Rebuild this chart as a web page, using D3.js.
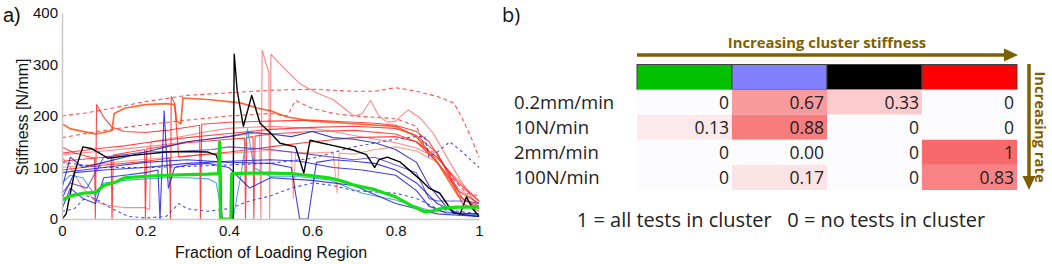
<!DOCTYPE html>
<html>
<head>
<meta charset="utf-8">
<script src="https://cdn.jsdelivr.net/npm/d3@7"></script>
<style>
  html, body { margin: 0; padding: 0; background: #fff; }
  svg { display: block; }
</style>
</head>
<body>
<svg id="chart" width="1052" height="264"></svg>
<script>
// ---- panel a) stiffness traces, [fraction, N/mm] ----
const greenTrace = [[0,37],[0.02,45],[0.05,50],[0.08,52],[0.085,55],[0.1,65],[0.13,72],[0.15,80],[0.2,83],[0.25,85],[0.3,86],[0.35,87],[0.375,88],[0.378,150],[0.38,0],[0.405,0],[0.407,88],[0.45,89],[0.5,89],[0.55,88],[0.6,84],[0.64,80],[0.67,74],[0.7,66],[0.75,57],[0.8,43],[0.84,25],[0.87,14],[0.89,16],[0.91,21],[0.95,23],[1,23]];
const blackTrace = [[0,0],[0.01,10],[0.03,90],[0.05,140],[0.07,137],[0.09,128],[0.11,118],[0.15,122],[0.2,126],[0.25,130],[0.3,131],[0.35,130],[0.37,124],[0.38,100],[0.383,0],[0.41,0],[0.413,320],[0.42,250],[0.435,180],[0.455,240],[0.475,186],[0.5,167],[0.523,147],[0.56,140],[0.58,89],[0.595,153],[0.62,148],[0.643,144],[0.698,134],[0.73,125],[0.75,100],[0.76,115],[0.78,120],[0.81,111],[0.84,90],[0.86,76],[0.88,60],[0.906,50],[0.938,12],[0.955,10],[0.97,43],[0.985,20],[1,5]];

const redDashTop = [[0,200],[0.05,205],[0.1,212],[0.2,228],[0.3,240],[0.4,245],[0.5,250],[0.6,252],[0.7,248],[0.75,248],[0.8,255],[0.85,248],[0.9,238],[0.94,225],[0.96,195],[0.98,160],[1,120]];
const redDashMid = [[0,158],[0.05,165],[0.1,172],[0.2,183],[0.3,192],[0.4,200],[0.5,205],[0.54,200],[0.56,230],[0.6,215],[0.65,205],[0.7,200],[0.8,195],[0.85,180],[0.87,140],[0.9,125],[0.94,76],[0.97,50],[1,45]];
const orangeTrace = [[0,185],[0.02,175],[0.05,170],[0.08,165],[0.1,168],[0.12,172],[0.125,205],[0.15,215],[0.2,222],[0.25,224],[0.27,222],[0.275,190],[0.285,185],[0.29,235],[0.35,232],[0.4,228],[0.43,225],[0.47,215],[0.5,210],[0.54,198],[0.6,190],[0.7,185],[0.8,180],[0.85,160],[0.9,110],[0.95,45],[1,20]];
const redSpikeA = [[0,140],[0.03,128],[0.06,122],[0.078,118],[0.08,0],[0.083,222],[0.1,198],[0.12,178],[0.15,170],[0.2,168],[0.25,172],[0.3,178],[0.33,182],[0.332,0],[0.335,184],[0.4,188],[0.5,190],[0.6,192],[0.7,188],[0.75,186],[0.8,182],[0.85,170],[0.88,150],[0.92,100],[0.96,40],[1,25]];
const redSolidA = [[0,128],[0.05,133],[0.1,138],[0.15,142],[0.2,148],[0.3,158],[0.4,166],[0.5,174],[0.6,178],[0.7,180],[0.8,176],[0.85,162],[0.9,128],[0.93,80],[0.96,30],[1,15]];
const redSolidB = [[0,112],[0.05,116],[0.1,120],[0.118,122],[0.12,0],[0.123,124],[0.15,128],[0.198,135],[0.2,0],[0.203,136],[0.25,142],[0.3,148],[0.4,155],[0.438,157],[0.44,0],[0.443,158],[0.458,160],[0.46,0],[0.463,161],[0.5,165],[0.6,170],[0.7,172],[0.8,165],[0.85,150],[0.9,110],[0.95,55],[1,30]];
const redPeak = [[0,125],[0.1,132],[0.2,140],[0.3,150],[0.4,160],[0.474,168],[0.477,0],[0.48,328],[0.49,300],[0.496,285],[0.498,0],[0.501,320],[0.53,295],[0.57,263],[0.61,245],[0.65,232],[0.7,200],[0.72,205],[0.74,230],[0.76,200],[0.78,188],[0.8,190],[0.83,212],[0.86,195],[0.89,167],[0.93,110],[0.955,76],[1,20]];
const redLightLow = [[0,120],[0.02,100],[0.05,60],[0.08,35],[0.1,28],[0.15,22],[0.2,22],[0.21,18],[0.213,150],[0.25,155],[0.3,162],[0.35,170],[0.4,176],[0.5,180],[0.6,176],[0.65,170],[0.7,162],[0.8,148],[0.85,138],[0.9,118],[0.95,75],[1,35]];
const salmonTrace = [[0,100],[0.1,108],[0.2,116],[0.3,122],[0.4,128],[0.5,133],[0.55,130],[0.555,40],[0.56,130],[0.6,128],[0.65,130],[0.66,50],[0.665,128],[0.7,126],[0.75,135],[0.8,140],[0.85,132],[0.9,110],[0.95,60],[1,30]];
const redSpikeB = [[0,95],[0.05,100],[0.1,105],[0.15,108],[0.2,112],[0.258,118],[0.26,0],[0.262,238],[0.27,225],[0.28,120],[0.3,122],[0.4,130],[0.5,140],[0.6,150],[0.7,158],[0.8,160],[0.85,150],[0.9,120],[0.95,70],[1,35]];

const blueTop = [[0,60],[0.02,120],[0.05,100],[0.1,110],[0.15,120],[0.2,130],[0.25,140],[0.3,150],[0.35,155],[0.4,160],[0.45,168],[0.5,165],[0.55,160],[0.6,170],[0.65,158],[0.7,155],[0.75,148],[0.8,135],[0.85,110],[0.88,65],[0.92,25],[0.95,10],[1,5]];
const blueDip = [[0,90],[0.05,95],[0.1,100],[0.2,110],[0.3,115],[0.4,110],[0.5,108],[0.55,100],[0.57,0],[0.59,0],[0.61,110],[0.65,115],[0.7,112],[0.75,108],[0.8,95],[0.85,70],[0.9,30],[0.95,10],[1,5]];
const blueDashHigh = [[0,110],[0.1,100],[0.2,100],[0.3,102],[0.4,105],[0.5,108],[0.6,118],[0.7,140],[0.8,155],[0.85,160],[0.87,160],[0.88,120],[0.9,130],[0.93,150],[0.96,130],[1,100]];
const blueDashLow = [[0,15],[0.03,20],[0.06,45],[0.09,35],[0.12,20],[0.16,5],[0.2,2],[0.25,5],[0.28,30],[0.3,20],[0.35,15],[0.4,20],[0.45,35],[0.5,45],[0.55,60],[0.6,70],[0.65,65],[0.7,55],[0.8,50],[0.85,40],[0.9,20],[1,10]];
const lightBlue = [[0,70],[0.02,85],[0.05,80],[0.08,45],[0.1,70],[0.15,75],[0.2,78],[0.25,80],[0.3,80],[0.35,78],[0.37,70],[0.385,0],[0.41,0],[0.43,90],[0.445,175],[0.46,100],[0.5,82],[0.57,82],[0.64,76],[0.72,50],[0.8,37],[0.88,17],[1,8]];
const blueMid = [[0,40],[0.03,90],[0.1,95],[0.2,100],[0.3,108],[0.4,112],[0.5,115],[0.57,112],[0.65,100],[0.72,95],[0.8,85],[0.85,55],[0.88,25],[0.92,12],[1,10]];
const purpleTrace = [[0,50],[0.02,70],[0.06,60],[0.1,120],[0.15,125],[0.2,130],[0.3,132],[0.36,135],[0.4,140],[0.5,135],[0.6,125],[0.7,115],[0.75,120],[0.8,105],[0.85,90],[0.88,40],[0.9,35],[0.97,35],[1,30]];
const blueSpike = [[0,20],[0.02,60],[0.05,40],[0.08,30],[0.1,80],[0.15,85],[0.2,90],[0.23,95],[0.235,0],[0.245,210],[0.255,60],[0.27,100],[0.3,105],[0.35,108],[0.4,100],[0.45,60],[0.5,80],[0.6,75],[0.7,65],[0.8,30],[0.9,10],[1,5]];

const xTicks = [0, 0.2, 0.4, 0.6, 0.8, 1];
const yTicks = [0, 100, 200, 300, 400];

// ---- panel b) cluster membership table ----
const rates = ['0.2mm/min', '10N/min', '2mm/min', '100N/min'];
const clusterColors = ['#00c000', '#8080ff', '#000000', '#ff0000'];
const fractions = [
  [0, 0.67, 0.33, 0],
  [0.13, 0.88, 0, 0],
  [0, 0.00, 0, 1],
  [0, 0.17, 0, 0.83]
];
const fractionLabels = [
  ['0', '0.67', '0.33', '0'],
  ['0.13', '0.88', '0', '0'],
  ['0', '0.00', '0', '1'],
  ['0', '0.17', '0', '0.83']
];

// line styles (kept apart from the data)
const styles = {
  red:      { stroke: '#ff1a1a', w: 1.1, op: 0.8 },
  redDash:  { stroke: '#ff3333', w: 1.1, op: 0.85, dash: '4,3' },
  orange:   { stroke: '#ff4400', w: 1.7, op: 0.8 },
  redLight: { stroke: '#ff6a6a', w: 1.1, op: 0.8 },
  salmon:   { stroke: '#ff8f7a', w: 1.1, op: 0.85 },
  blue:     { stroke: '#1010e0', w: 1.1, op: 0.8 },
  blueDark: { stroke: '#2020b0', w: 1.1, op: 0.85 },
  blueDash: { stroke: '#3333cc', w: 1.1, op: 0.85, dash: '3,3' },
  ltBlue:   { stroke: '#3399dd', w: 1.1, op: 0.85 },
  purple:   { stroke: '#5533cc', w: 1.1, op: 0.8 },
  black:    { stroke: '#000000', w: 1.4, op: 1 },
  green:    { stroke: '#11e011', w: 3.2, op: 1 }
};

const traces = [
  [redDashTop, 'redDash'], [redDashMid, 'redDash'], [redPeak, 'redLight'],
  [redLightLow, 'redLight'], [salmonTrace, 'salmon'], [redSpikeB, 'red'],
  [redSolidA, 'red'], [redSolidB, 'red'], [redSpikeA, 'red'], [orangeTrace, 'orange'],
  [blueDashLow, 'blueDash'], [blueDashHigh, 'blueDash'], [lightBlue, 'ltBlue'],
  [blueMid, 'blue'], [purpleTrace, 'purple'], [blueSpike, 'blue'],
  [blueDip, 'blue'], [blueTop, 'blueDark'],
  [blackTrace, 'black'], [greenTrace, 'green']
];

const svg = d3.select('#chart');
svg.append('rect').attr('width', 1052).attr('height', 264).attr('fill', '#fff');

// ===== panel a =====
const x = d3.scaleLinear().domain([0, 1]).range([62, 479]);
const y = d3.scaleLinear().domain([0, 400]).range([219, 13]);
const AX_FONT = 'Liberation Sans, Arial, sans-serif';

const plot = svg.append('g');
plot.append('defs').append('clipPath').attr('id', 'clipA')
  .append('rect').attr('x', 62).attr('y', 5).attr('width', 418).attr('height', 215);

const line = d3.line().x(d => x(d[0])).y(d => y(d[1]));
const lines = plot.append('g').attr('clip-path', 'url(#clipA)');
traces.forEach(([data, key]) => {
  const s = styles[key];
  lines.append('path')
    .attr('d', line(data))
    .attr('fill', 'none')
    .attr('stroke', s.stroke)
    .attr('stroke-width', s.w)
    .attr('stroke-opacity', s.op)
    .attr('stroke-linejoin', 'round')
    .attr('stroke-dasharray', s.dash || null);
});

const xAxis = plot.append('g').attr('transform', 'translate(0,219)')
  .call(d3.axisBottom(x).tickValues(xTicks).tickFormat(d3.format('~g')).tickSize(0).tickPadding(6));
const yAxis = plot.append('g').attr('transform', 'translate(62,0)')
  .call(d3.axisLeft(y).tickValues(yTicks).tickSize(0).tickPadding(4));
[xAxis, yAxis].forEach(a => {
  a.select('.domain').attr('stroke', '#c8c8c8').attr('stroke-width', 1.5);
  a.selectAll('text').attr('font-family', AX_FONT).attr('font-size', 15).attr('fill', '#111');
});

plot.append('text')
  .attr('transform', 'translate(28,117) rotate(-90)')
  .attr('text-anchor', 'middle')
  .attr('font-family', AX_FONT).attr('font-size', 16).attr('fill', '#111')
  .text('Stiffness [N/mm]');
plot.append('text')
  .attr('x', 271).attr('y', 258)
  .attr('text-anchor', 'middle')
  .attr('font-family', AX_FONT).attr('font-size', 16).attr('fill', '#111')
  .text('Fraction of Loading Region');
plot.append('text')
  .attr('x', 3).attr('y', 22)
  .attr('font-family', AX_FONT).attr('font-size', 20).attr('fill', '#111')
  .text('a)');

// ===== panel b =====
const TB_FONT = 'Open Sans, Lato, sans-serif';
const BROWN = '#7f6000';
const col = d3.scaleBand().domain(d3.range(clusterColors.length)).range([637, 1017]);
const row = d3.scaleBand().domain(d3.range(rates.length)).range([89.5, 190]);
const heat = d3.scaleLinear().domain([0, 1]).range(['#fcfcff', '#f8696b']);

const tb = svg.append('g');
tb.append('text')
  .attr('x', 502).attr('y', 22)
  .attr('font-family', TB_FONT).attr('font-size', 20).attr('fill', '#111')
  .text('b)');

// horizontal arrow
tb.append('line')
  .attr('x1', 637).attr('x2', 1006).attr('y1', 55).attr('y2', 55)
  .attr('stroke', BROWN).attr('stroke-width', 3.5);
tb.append('path')
  .attr('d', 'M1004,48.5L1018,55L1004,61.5Z').attr('fill', BROWN);
tb.append('text')
  .attr('x', 827).attr('y', 48)
  .attr('text-anchor', 'middle')
  .attr('font-family', TB_FONT).attr('font-weight', 'bold').attr('font-size', 14.8)
  .attr('fill', BROWN)
  .text('Increasing cluster stiffness');

// vertical arrow
tb.append('line')
  .attr('x1', 1029).attr('x2', 1029).attr('y1', 64).attr('y2', 178)
  .attr('stroke', BROWN).attr('stroke-width', 3.5);
tb.append('path')
  .attr('d', 'M1022.5,176L1029,190L1035.5,176Z').attr('fill', BROWN);
tb.append('text')
  .attr('transform', 'translate(1035,127) rotate(90)')
  .attr('text-anchor', 'middle')
  .attr('font-family', TB_FONT).attr('font-weight', 'bold').attr('font-size', 14.8)
  .attr('fill', BROWN)
  .text('Increasing rate');

// cluster colour strip
tb.selectAll('rect.cluster').data(clusterColors).join('rect')
  .attr('class', 'cluster')
  .attr('x', (d, i) => col(i)).attr('y', 64.5)
  .attr('width', col.bandwidth()).attr('height', 25)
  .attr('fill', d => d)
  .attr('stroke', '#404040').attr('stroke-width', 1);

// value cells
fractions.forEach((vals, r) => {
  vals.forEach((v, c) => {
    tb.append('rect')
      .attr('x', col(c)).attr('y', row(r))
      .attr('width', col.bandwidth()).attr('height', row.bandwidth())
      .attr('fill', heat(v));
    tb.append('text')
      .attr('x', col(c) + col.bandwidth() - 3)
      .attr('y', row(r) + row.bandwidth() / 2 + 6.5)
      .attr('text-anchor', 'end')
      .attr('font-family', TB_FONT).attr('font-size', 17.5).attr('fill', '#222')
      .text(fractionLabels[r][c]);
  });
  tb.append('text')
    .attr('x', 514)
    .attr('y', row(r) + row.bandwidth() / 2 + 6.5)
    .attr('font-family', TB_FONT).attr('font-size', 18.5).attr('fill', '#222')
    .text(rates[r]);
});

tb.append('text')
  .attr('x', 781).attr('y', 227)
  .attr('text-anchor', 'middle')
  .attr('font-family', TB_FONT).attr('font-size', 20).attr('fill', '#222')
  .attr('xml:space', 'preserve')
  .text('1 = all tests in cluster   0 = no tests in cluster');
</script>
</body>
</html>
